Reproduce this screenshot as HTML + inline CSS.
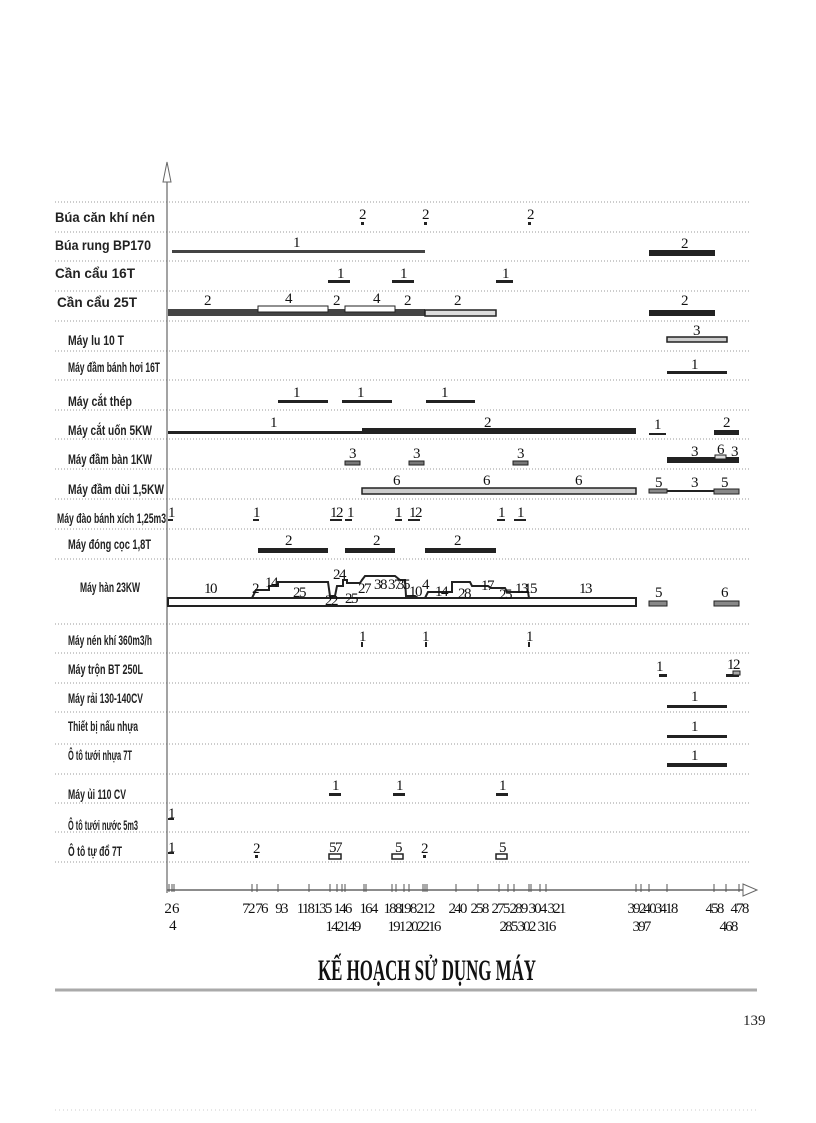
<!DOCTYPE html>
<html><head><meta charset="utf-8"><style>
html,body{margin:0;padding:0;background:#fff;}
svg{display:block;}
.lb{font-family:"Liberation Sans",sans-serif;font-weight:bold;font-size:14px;fill:#222;}
.n{font-family:"Liberation Serif",serif;font-size:15px;fill:#111;text-anchor:middle;letter-spacing:-1.5px;}
.t{font-family:"Liberation Serif",serif;font-size:15px;fill:#111;text-anchor:middle;letter-spacing:-1.8px;}
.dl{stroke:#999;stroke-width:1;stroke-dasharray:1 2;}
</style></head><body>
<svg width="816" height="1123" viewBox="0 0 816 1123" xmlns="http://www.w3.org/2000/svg">
<g class="dl">
<line x1="55" x2="750" y1="202" y2="202"/><line x1="55" x2="750" y1="232" y2="232"/>
<line x1="55" x2="750" y1="261" y2="261"/><line x1="55" x2="750" y1="291" y2="291"/>
<line x1="55" x2="750" y1="321" y2="321"/><line x1="55" x2="750" y1="351" y2="351"/>
<line x1="55" x2="750" y1="380" y2="380"/><line x1="55" x2="750" y1="410" y2="410"/>
<line x1="55" x2="750" y1="439" y2="439"/><line x1="55" x2="750" y1="469" y2="469"/>
<line x1="55" x2="750" y1="499" y2="499"/><line x1="55" x2="750" y1="529" y2="529"/>
<line x1="55" x2="750" y1="559" y2="559"/><line x1="55" x2="750" y1="624" y2="624"/>
<line x1="55" x2="750" y1="653" y2="653"/><line x1="55" x2="750" y1="683" y2="683"/>
<line x1="55" x2="750" y1="712" y2="712"/><line x1="55" x2="750" y1="744" y2="744"/>
<line x1="55" x2="750" y1="774" y2="774"/><line x1="55" x2="750" y1="803" y2="803"/>
<line x1="55" x2="750" y1="832" y2="832"/><line x1="55" x2="750" y1="862" y2="862"/>
</g>
<line x1="167" y1="165" x2="167" y2="893" stroke="#666" stroke-width="1.2"/>
<polygon points="163,182 167,162 171,182" fill="#fff" stroke="#666"/>
<line x1="167" y1="890" x2="745" y2="890" stroke="#666" stroke-width="1.5"/>
<polygon points="743,884 757,890 743,896" fill="#fff" stroke="#666"/>
<g class="lb">
<text x="55" y="222" textLength="100" lengthAdjust="spacingAndGlyphs">Búa căn khí nén</text>
<text x="55" y="250" textLength="96" lengthAdjust="spacingAndGlyphs">Búa rung BP170</text>
<text x="55" y="278" textLength="80" lengthAdjust="spacingAndGlyphs">Cần cẩu 16T</text>
<text x="57" y="307" textLength="80" lengthAdjust="spacingAndGlyphs">Cần cẩu 25T</text>
<text x="68" y="345" textLength="56" lengthAdjust="spacingAndGlyphs">Máy lu 10 T</text>
<text x="68" y="372" textLength="92" lengthAdjust="spacingAndGlyphs">Máy đầm bánh hơi 16T</text>
<text x="68" y="406" textLength="64" lengthAdjust="spacingAndGlyphs">Máy cắt thép</text>
<text x="68" y="435" textLength="84" lengthAdjust="spacingAndGlyphs">Máy cắt uốn 5KW</text>
<text x="68" y="464" textLength="84" lengthAdjust="spacingAndGlyphs">Máy đầm bàn 1KW</text>
<text x="68" y="494" textLength="96" lengthAdjust="spacingAndGlyphs">Máy đầm dùi 1,5KW</text>
<text x="57" y="523" textLength="109" lengthAdjust="spacingAndGlyphs">Máy đào bánh xích 1,25m3</text>
<text x="68" y="549" textLength="83" lengthAdjust="spacingAndGlyphs">Máy đóng cọc 1,8T</text>
<text x="80" y="592" textLength="60" lengthAdjust="spacingAndGlyphs">Máy hàn 23KW</text>
<text x="68" y="645" textLength="84" lengthAdjust="spacingAndGlyphs">Máy nén khí 360m3/h</text>
<text x="68" y="674" textLength="75" lengthAdjust="spacingAndGlyphs">Máy trộn BT 250L</text>
<text x="68" y="703" textLength="75" lengthAdjust="spacingAndGlyphs">Máy rải 130-140CV</text>
<text x="68" y="731" textLength="70" lengthAdjust="spacingAndGlyphs">Thiết bị nấu nhựa</text>
<text x="68" y="760" textLength="64" lengthAdjust="spacingAndGlyphs">Ô tô tưới nhựa 7T</text>
<text x="68" y="799" textLength="58" lengthAdjust="spacingAndGlyphs">Máy ủi 110 CV</text>
<text x="68" y="830" textLength="70" lengthAdjust="spacingAndGlyphs">Ô tô tưới nước 5m3</text>
<text x="68" y="856" textLength="54" lengthAdjust="spacingAndGlyphs">Ô tô tự đổ 7T</text>
</g>
<g fill="#222" stroke="none">
<rect x="361" y="222" width="3" height="3"/><rect x="424" y="222" width="3" height="3"/><rect x="528" y="222" width="3" height="3"/>
<rect x="172" y="250" width="253" height="3" fill="#444"/>
<rect x="649" y="250" width="66" height="6"/>
<rect x="328" y="280" width="22" height="3"/><rect x="392" y="280" width="22" height="3"/><rect x="496" y="280" width="17" height="3"/>
<rect x="168" y="309" width="257" height="7" fill="#444"/>
<rect x="258" y="306" width="70" height="6" fill="#fff" stroke="#222" stroke-width="1"/>
<rect x="345" y="306" width="50" height="6" fill="#fff" stroke="#222" stroke-width="1"/>
<rect x="425" y="310" width="71" height="6" fill="#ddd" stroke="#222" stroke-width="1.5"/>
<rect x="649" y="310" width="66" height="6"/>
<rect x="667" y="337" width="60" height="5" fill="#ccc" stroke="#222" stroke-width="1.5"/>
<rect x="667" y="371" width="60" height="3"/>
<rect x="278" y="400" width="50" height="3"/><rect x="342" y="400" width="50" height="3"/><rect x="426" y="400" width="49" height="3"/>
<rect x="168" y="431" width="194" height="3"/><rect x="362" y="428" width="274" height="6"/>
<rect x="649" y="433" width="17" height="2"/><rect x="714" y="430" width="25" height="5"/>
<rect x="345" y="461" width="15" height="4" fill="#777" stroke="#222"/><rect x="409" y="461" width="15" height="4" fill="#777" stroke="#222"/><rect x="513" y="461" width="15" height="4" fill="#777" stroke="#222"/>
<rect x="667" y="457" width="72" height="6"/><rect x="715" y="455" width="11" height="4" fill="#ddd" stroke="#222"/>
<rect x="362" y="488" width="274" height="6" fill="#ccc" stroke="#222" stroke-width="1.5"/>
<rect x="649" y="489" width="18" height="4" fill="#888" stroke="#222"/><rect x="667" y="490" width="47" height="2"/><rect x="714" y="489" width="25" height="5" fill="#888" stroke="#222"/>
<rect x="168" y="519" width="5" height="2"/><rect x="253" y="519" width="6" height="2"/><rect x="330" y="519" width="12" height="2"/><rect x="345" y="519" width="7" height="2"/>
<rect x="395" y="519" width="7" height="2"/><rect x="408" y="519" width="12" height="2"/><rect x="497" y="519" width="8" height="2"/><rect x="514" y="519" width="12" height="2"/>
<rect x="258" y="548" width="70" height="5"/><rect x="345" y="548" width="50" height="5"/><rect x="425" y="548" width="71" height="5"/>
<rect x="168" y="598" width="468" height="8" fill="#fff" stroke="#222" stroke-width="2"/>
<polyline points="168,598 252,598 256,590 269,590 269,586 278,586 278,582 328,582 330,596 335,596 337,586 343,586 343,580 347,580 347,583 360,583 362,580 365,576 395,576 400,580 405,580 406,596 415,596 418,598 425,598 428,592 452,592 452,582 470,582 472,586 488,586 491,588 505,588 507,592 528,592 529,598" fill="none" stroke="#222" stroke-width="2"/>
<rect x="649" y="601" width="18" height="5" fill="#888" stroke="#222"/><rect x="714" y="601" width="25" height="5" fill="#888" stroke="#222"/>
<rect x="361" y="642" width="2" height="5"/><rect x="425" y="642" width="2" height="5"/><rect x="528" y="642" width="2" height="5"/>
<rect x="659" y="674" width="8" height="3"/><rect x="726" y="674" width="13" height="3"/><rect x="733" y="671" width="7" height="4" fill="#aaa" stroke="#222"/>
<rect x="667" y="705" width="60" height="3"/><rect x="667" y="735" width="60" height="3"/><rect x="667" y="763" width="60" height="4"/>
<rect x="329" y="793" width="12" height="3"/><rect x="393" y="793" width="12" height="3"/><rect x="496" y="793" width="12" height="3"/>
<rect x="168" y="818" width="6" height="2"/>
<rect x="168" y="852" width="6" height="2"/><rect x="255" y="855" width="3" height="3"/>
<rect x="329" y="854" width="12" height="5" fill="#fff" stroke="#222" stroke-width="1.5"/>
<rect x="392" y="854" width="11" height="5" fill="#fff" stroke="#222" stroke-width="1.5"/>
<rect x="423" y="855" width="3" height="3"/>
<rect x="496" y="854" width="11" height="5" fill="#fff" stroke="#222" stroke-width="1.5"/>
</g>
<g class="n">
<text x="362" y="219">2</text><text x="425" y="219">2</text><text x="530" y="219">2</text>
<text x="296" y="247">1</text><text x="684" y="248">2</text>
<text x="340" y="278">1</text><text x="403" y="278">1</text><text x="505" y="278">1</text>
<text x="207" y="305">2</text><text x="288" y="303">4</text><text x="336" y="305">2</text><text x="376" y="303">4</text><text x="407" y="305">2</text><text x="457" y="305">2</text><text x="684" y="305">2</text>
<text x="696" y="335">3</text><text x="694" y="369">1</text>
<text x="296" y="397">1</text><text x="360" y="397">1</text><text x="444" y="397">1</text>
<text x="273" y="427">1</text><text x="487" y="427">2</text><text x="657" y="429">1</text><text x="726" y="427">2</text>
<text x="352" y="458">3</text><text x="416" y="458">3</text><text x="520" y="458">3</text><text x="694" y="456">3</text><text x="720" y="454">6</text><text x="734" y="456">3</text>
<text x="396" y="485">6</text><text x="486" y="485">6</text><text x="578" y="485">6</text><text x="658" y="487">5</text><text x="694" y="487">3</text><text x="724" y="487">5</text>
<text x="171" y="517">1</text><text x="256" y="517">1</text><text x="336" y="517">12</text><text x="350" y="517">1</text><text x="398" y="517">1</text><text x="415" y="517">12</text><text x="501" y="517">1</text><text x="520" y="517">1</text>
<text x="288" y="545">2</text><text x="376" y="545">2</text><text x="457" y="545">2</text>
<text x="210" y="593">10</text><text x="255" y="593">2</text><text x="271" y="587">14</text><text x="299" y="597">25</text><text x="331" y="605">22</text><text x="339" y="579">24</text><text x="351" y="603">25</text><text x="364" y="593">27</text><text x="380" y="589">38</text><text x="394" y="589">37</text><text x="403" y="589">35</text><text x="415" y="596">10</text><text x="425" y="589">4</text><text x="441" y="596">14</text><text x="464" y="598">28</text><text x="487" y="590">17</text><text x="505" y="599">25</text><text x="521" y="593">13</text><text x="530" y="593">15</text><text x="585" y="593">13</text><text x="658" y="597">5</text><text x="724" y="597">6</text>
<text x="362" y="641">1</text><text x="425" y="641">1</text><text x="529" y="641">1</text>
<text x="659" y="671">1</text><text x="733" y="669">12</text>
<text x="694" y="701">1</text><text x="694" y="731">1</text><text x="694" y="760">1</text>
<text x="335" y="790">1</text><text x="399" y="790">1</text><text x="502" y="790">1</text>
<text x="171" y="818">1</text>
<text x="171" y="852">1</text><text x="256" y="853">2</text><text x="335" y="852">57</text><text x="398" y="852">5</text><text x="424" y="853">2</text><text x="502" y="852">5</text>
</g>
<g stroke="#555" stroke-width="1">
<line x1="169" x2="169" y1="884" y2="892"/><line x1="172" x2="172" y1="884" y2="892"/><line x1="174" x2="174" y1="884" y2="892"/>
<line x1="252" x2="252" y1="884" y2="892"/><line x1="257" x2="257" y1="884" y2="892"/><line x1="278" x2="278" y1="884" y2="892"/>
<line x1="309" x2="309" y1="884" y2="892"/><line x1="330" x2="330" y1="884" y2="892"/><line x1="337" x2="337" y1="884" y2="892"/>
<line x1="342" x2="342" y1="884" y2="892"/><line x1="345" x2="345" y1="884" y2="892"/><line x1="364" x2="364" y1="884" y2="892"/><line x1="366" x2="366" y1="884" y2="892"/>
<line x1="392" x2="392" y1="884" y2="892"/><line x1="396" x2="396" y1="884" y2="892"/><line x1="404" x2="404" y1="884" y2="892"/><line x1="409" x2="409" y1="884" y2="892"/>
<line x1="423" x2="423" y1="884" y2="892"/><line x1="425" x2="425" y1="884" y2="892"/><line x1="427" x2="427" y1="884" y2="892"/>
<line x1="456" x2="456" y1="884" y2="892"/><line x1="478" x2="478" y1="884" y2="892"/><line x1="499" x2="499" y1="884" y2="892"/>
<line x1="508" x2="508" y1="884" y2="892"/><line x1="514" x2="514" y1="884" y2="892"/><line x1="529" x2="529" y1="884" y2="892"/><line x1="531" x2="531" y1="884" y2="892"/>
<line x1="540" x2="540" y1="884" y2="892"/><line x1="546" x2="546" y1="884" y2="892"/>
<line x1="636" x2="636" y1="884" y2="892"/><line x1="641" x2="641" y1="884" y2="892"/><line x1="649" x2="649" y1="884" y2="892"/><line x1="667" x2="667" y1="884" y2="892"/>
<line x1="714" x2="714" y1="884" y2="892"/><line x1="726" x2="726" y1="884" y2="892"/><line x1="739" x2="739" y1="884" y2="892"/>
</g>
<g class="t">
<text x="171" y="913">2 6</text><text x="172" y="930">4</text>
<text x="248" y="913">72</text><text x="261" y="913">76</text><text x="281" y="913">93</text><text x="305" y="913">118</text><text x="322" y="913">135</text><text x="342" y="913">146</text><text x="368" y="913">164</text>
<text x="392" y="913">188</text><text x="407" y="913">198</text><text x="425" y="913">212</text><text x="457" y="913">240</text><text x="479" y="913">258</text><text x="500" y="913">275</text><text x="518" y="913">289</text><text x="537" y="913">304</text><text x="556" y="913">321</text>
<text x="636" y="913">392</text><text x="652" y="913">403</text><text x="668" y="913">418</text><text x="714" y="913">458</text><text x="739" y="913">478</text>
<text x="334" y="931">142</text><text x="351" y="931">149</text><text x="396" y="931">191</text><text x="414" y="931">202</text><text x="431" y="931">216</text>
<text x="508" y="931">285</text><text x="526" y="931">302</text><text x="546" y="931">316</text><text x="641" y="931">397</text><text x="728" y="931">468</text>
</g>
<text x="318" y="980" font-family="Liberation Serif, serif" font-size="30" font-weight="bold" fill="#111" textLength="218" lengthAdjust="spacingAndGlyphs">KẾ HOẠCH SỬ DỤNG MÁY</text>
<line x1="55" x2="757" y1="990" y2="990" stroke="#aaa" stroke-width="3"/>
<text x="743" y="1025" font-family="Liberation Serif, serif" font-size="15" fill="#222">139</text>
<line x1="55" x2="757" y1="1110" y2="1110" stroke="#ccc" stroke-width="1" stroke-dasharray="1 3"/>
</svg>
</body></html>
